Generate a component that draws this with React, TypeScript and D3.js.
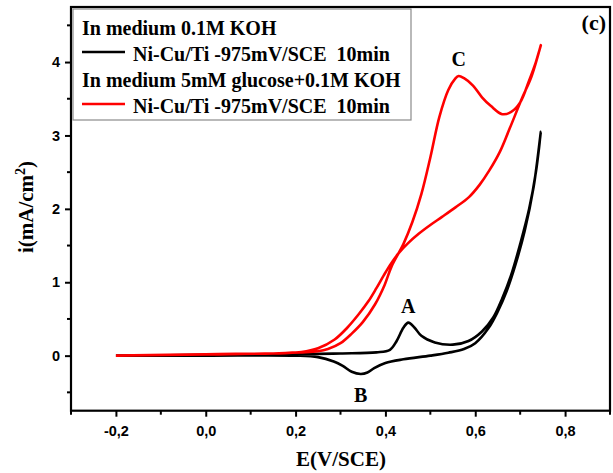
import React, { useEffect, useRef } from 'react';
import * as d3 from 'd3';

// cyclic voltammograms, Ni-Cu/Ti
// KOH only: forward scan then reverse scan
const koh_E = [-0.2, 0.0, 0.2, 0.3, 0.38, 0.41, 0.425, 0.44, 0.451, 0.465, 0.48, 0.51, 0.55, 0.585, 0.615, 0.64, 0.66, 0.68, 0.70, 0.72, 0.735, 0.746,
  0.73, 0.71, 0.69, 0.67, 0.65, 0.63, 0.6, 0.575, 0.54, 0.5, 0.44, 0.4, 0.375, 0.36, 0.345, 0.325, 0.305, 0.285, 0.25, 0.2, 0.0, -0.2];
const koh_I = [0.0, 0.01, 0.02, 0.03, 0.045, 0.08, 0.2, 0.38, 0.45, 0.38, 0.27, 0.18, 0.15, 0.2, 0.33, 0.52, 0.78, 1.1, 1.52, 2.0, 2.5, 3.05,
  2.3, 1.7, 1.25, 0.88, 0.6, 0.38, 0.17, 0.09, 0.04, 0.0, -0.05, -0.1, -0.17, -0.23, -0.25, -0.22, -0.14, -0.08, -0.02, 0.0, 0.0, 0.0];

// 5mM glucose + KOH
const glu_E = [-0.2, 0.0, 0.15, 0.21, 0.25, 0.272, 0.3, 0.325, 0.35, 0.377, 0.398, 0.414, 0.44, 0.46, 0.48, 0.5, 0.52, 0.54, 0.555, 0.563, 0.575, 0.595, 0.615, 0.635, 0.66, 0.68, 0.7, 0.72, 0.735, 0.746,
  0.725, 0.705, 0.675, 0.655, 0.631, 0.61, 0.586, 0.556, 0.526, 0.5, 0.474, 0.45, 0.43, 0.412, 0.396, 0.38, 0.362, 0.34, 0.315, 0.287, 0.25, 0.213, 0.1, 0.0, -0.2];
const glu_I = [0.0, 0.02, 0.03, 0.045, 0.06, 0.09, 0.17, 0.3, 0.46, 0.7, 0.96, 1.22, 1.52, 1.82, 2.2, 2.7, 3.25, 3.62, 3.77, 3.81, 3.78, 3.68, 3.52, 3.4, 3.29, 3.32, 3.45, 3.75, 4.0, 4.23,
  3.8, 3.52, 3.07, 2.78, 2.52, 2.33, 2.16, 2.02, 1.89, 1.78, 1.66, 1.53, 1.4, 1.25, 1.09, 0.92, 0.74, 0.56, 0.38, 0.22, 0.1, 0.05, 0.025, 0.015, 0.0];

const xTicks = [-0.2, 0.0, 0.2, 0.4, 0.6, 0.8];
const xMinor = [-0.3, -0.1, 0.1, 0.3, 0.5, 0.7, 0.9];
const yTicks = [0, 1, 2, 3, 4];
const yMinor = [-0.5, 0.5, 1.5, 2.5, 3.5, 4.5];

const legendItems = [
  { head: 'In medium 0.1M KOH', label: 'Ni-Cu/Ti -975mV/SCE\u00a0\u00a010min', color: '#000' },
  { head: 'In medium 5mM glucose+0.1M KOH', label: 'Ni-Cu/Ti -975mV/SCE\u00a0\u00a010min', color: '#ff0000' },
];

const peaks = [
  { name: 'C', E: 0.563, i: 3.81, dy: -10 },
  { name: 'A', E: 0.451, i: 0.45, dy: -10 },
  { name: 'B', E: 0.345, i: -0.25, dy: 28 },
];

const W = 613;
const H = 473;
const serif = '"Liberation Serif", "Times New Roman", serif';
const sans = '"Liberation Sans", Arial, sans-serif';

export default function App() {
  const ref = useRef<SVGSVGElement>(null);

  useEffect(() => {
    const svg = d3.select(ref.current);
    svg.selectAll('*').remove();

    const x = d3.scaleLinear().domain([-0.3, 0.9]).range([71, 610]);
    const y = d3.scaleLinear().domain([-0.75, 4.75]).range([410.7, 7]);

    const line = d3.line<[number, number]>()
      .x(d => x(d[0]))
      .y(d => y(d[1]))
      .curve(d3.curveCatmullRom.alpha(0.5));

    const kohPts = koh_E.map((e, k) => [e, koh_I[k]] as [number, number]);
    const gluPts = glu_E.map((e, k) => [e, glu_I[k]] as [number, number]);

    svg.append('path')
      .attr('d', line(kohPts))
      .attr('fill', 'none')
      .attr('stroke', '#000')
      .attr('stroke-width', 2.6)
      .attr('stroke-linejoin', 'round');

    svg.append('path')
      .attr('d', line(gluPts))
      .attr('fill', 'none')
      .attr('stroke', '#ff0000')
      .attr('stroke-width', 2.6)
      .attr('stroke-linejoin', 'round');

    // axes
    const gx = svg.append('g').attr('transform', `translate(0,${y(-0.75)})`);
    gx.call(d3.axisBottom(x).tickValues(xTicks).tickSize(6).tickFormat(d => d3.format('.1f')(d as number).replace('.', ',').replace('−', '-')));
    gx.select('.domain').remove();
    gx.selectAll('line').attr('stroke-width', 2);
    gx.selectAll('text')
      .attr('font-family', sans)
      .attr('font-weight', 'bold')
      .attr('font-size', 14.5)
      .attr('dy', '1.1em');
    gx.append('g').selectAll('line').data(xMinor).enter().append('line')
      .attr('x1', d => x(d)).attr('x2', d => x(d))
      .attr('y1', 0).attr('y2', 4)
      .attr('stroke', '#000').attr('stroke-width', 2);

    const gy = svg.append('g').attr('transform', `translate(${x(-0.3)},0)`);
    gy.call(d3.axisLeft(y).tickValues(yTicks).tickSize(6).tickFormat(d3.format('d')));
    gy.select('.domain').remove();
    gy.selectAll('line').attr('stroke-width', 2);
    gy.selectAll('text')
      .attr('font-family', sans)
      .attr('font-weight', 'bold')
      .attr('font-size', 14.5)
      .attr('x', -11);
    gy.append('g').selectAll('line').data(yMinor).enter().append('line')
      .attr('y1', d => y(d)).attr('y2', d => y(d))
      .attr('x1', 0).attr('x2', -4)
      .attr('stroke', '#000').attr('stroke-width', 2);

    // frame
    svg.append('rect')
      .attr('x', x(-0.3)).attr('y', y(4.75))
      .attr('width', x(0.9) - x(-0.3)).attr('height', y(-0.75) - y(4.75))
      .attr('fill', 'none').attr('stroke', '#000').attr('stroke-width', 2.2);

    // legend
    svg.append('rect')
      .attr('x', 73).attr('y', 9).attr('width', 338).attr('height', 111)
      .attr('fill', '#fff').attr('stroke', '#8a8a8a').attr('stroke-width', 1.2);
    legendItems.forEach((it, k) => {
      const base = 35 + k * 52;
      svg.append('text')
        .attr('x', 82).attr('y', base)
        .attr('font-family', serif).attr('font-weight', 'bold').attr('font-size', 20)
        .text(it.head);
      svg.append('line')
        .attr('x1', 82).attr('x2', 125)
        .attr('y1', base + 17).attr('y2', base + 17)
        .attr('stroke', it.color).attr('stroke-width', 2.6);
      svg.append('text')
        .attr('x', 133).attr('y', base + 26)
        .attr('font-family', serif).attr('font-weight', 'bold').attr('font-size', 20)
        .text(it.label);
    });

    // peak letters
    peaks.forEach(p => {
      svg.append('text')
        .attr('x', x(p.E)).attr('y', y(p.i) + p.dy)
        .attr('text-anchor', 'middle')
        .attr('font-family', serif).attr('font-weight', 'bold').attr('font-size', 20)
        .text(p.name);
    });

    svg.append('text')
      .attr('x', 606).attr('y', 30)
      .attr('text-anchor', 'end')
      .attr('font-family', serif).attr('font-weight', 'bold').attr('font-size', 22)
      .text('(c)');

    // axis titles
    svg.append('text')
      .attr('x', 341).attr('y', 466)
      .attr('text-anchor', 'middle')
      .attr('font-family', serif).attr('font-weight', 'bold').attr('font-size', 21)
      .text('E(V/SCE)');

    const yt = svg.append('text')
      .attr('transform', 'translate(33,207) rotate(-90)')
      .attr('text-anchor', 'middle')
      .attr('font-family', serif).attr('font-weight', 'bold').attr('font-size', 21);
    yt.append('tspan').text('i(mA/cm');
    yt.append('tspan').attr('font-size', 14).attr('dy', -8).text('2');
    yt.append('tspan').attr('dy', 8).text(')');
  }, []);

  return (
    <svg ref={ref} width={W} height={H} style={{ position: 'absolute', left: 0, top: 0, background: '#fff' }} />
  );
}
